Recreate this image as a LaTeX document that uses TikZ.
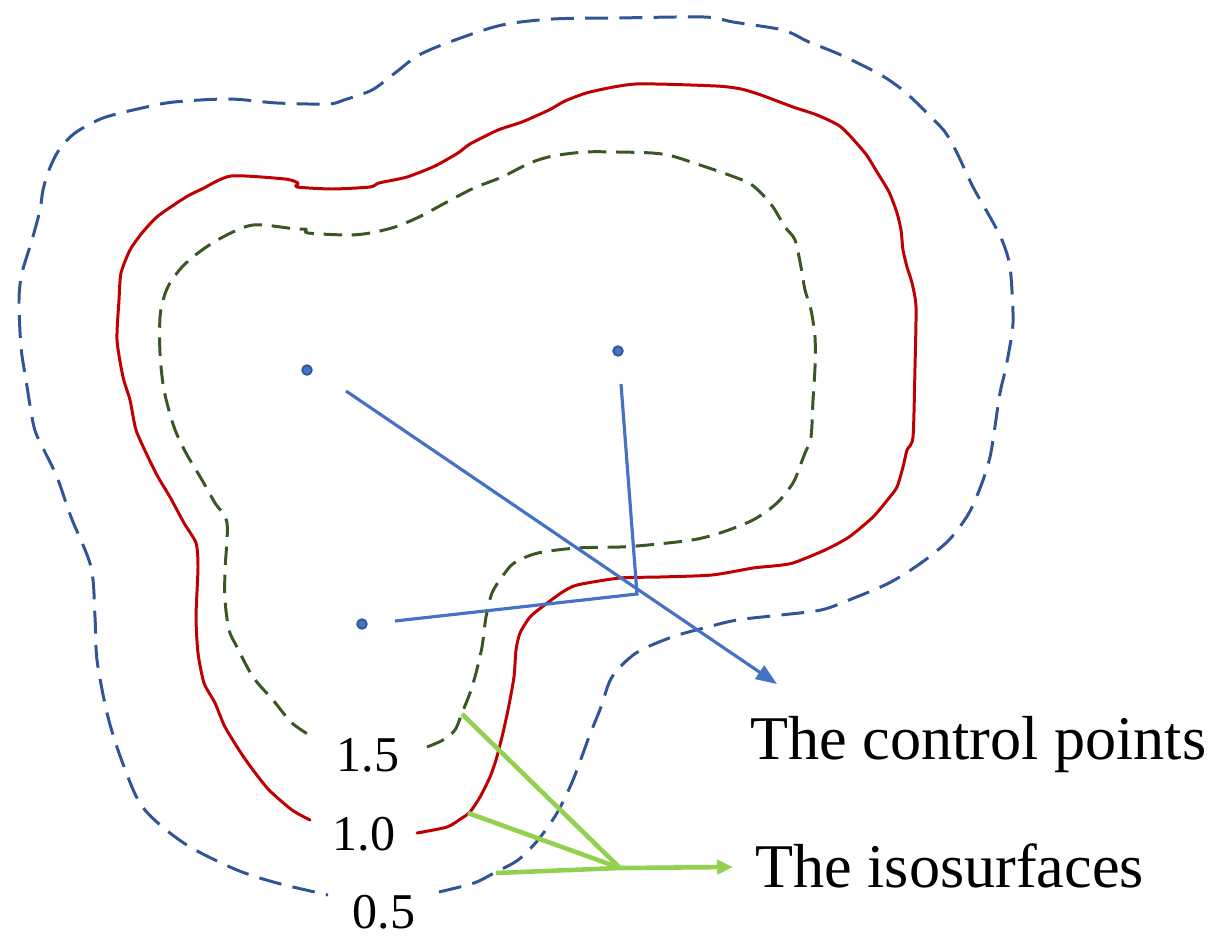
\documentclass[tikz,border=0pt]{standalone}
\usepackage{fontspec}
\setmainfont{Liberation Serif}
\usetikzlibrary{arrows.meta}
\definecolor{outerblue}{HTML}{2F5597}
\definecolor{isored}{HTML}{C00000}
\definecolor{isogreen}{HTML}{385723}
\definecolor{lineblue}{HTML}{4472C4}
\definecolor{arrowgreen}{HTML}{92D050}
\tikzset{
  iso05/.style={draw=outerblue, line width=1.7pt, dash pattern=on 13pt off 6.5pt, line join=round},
  iso10/.style={draw=isored, line width=1.7pt, line join=round, line cap=round},
  iso15/.style={draw=isogreen, line width=1.7pt, dash pattern=on 10.5pt off 5.5pt, line join=round},
  cpdot/.style={circle, fill=lineblue, draw=outerblue, line width=1pt, inner sep=0pt, minimum size=5.5pt},
  cpline/.style={draw=lineblue, line width=1.8pt, line join=miter},
  isoline/.style={draw=arrowgreen, line width=2.6pt, line join=round},
  bigtext/.style={inner sep=0pt, anchor=base west, font=\fontsize{35.4}{40}\selectfont},
  lvl/.style={inner sep=0pt, anchor=base, font=\fontsize{28.5}{32}\selectfont},
}
\begin{document}
\begin{tikzpicture}[x=0.02cm, y=-0.02cm]
\useasboundingbox (0,0) rectangle (1230,943);

% isosurface 0.5 (outer, blue dashed)
\draw[iso05] plot[smooth, tension=0.5] coordinates {
(439,892) (474,883) (494,873) (518,860) (538,840) (557,813) (573,780) (589,737) (601,707) (612,677) (636,653) (672,637) (704,628) (737,620) (781,615) (821,610) (849,600) (889,583) (921,563) (949,540) (969,513) (982,483) (990,457) (994,433) (1000,393) (1006,367) (1012,333) (1013,313) (1010,267) (1002,240) (990,217) (973,187) (957,153) (945,132) (929,115) (905,92) (881,75) (841,55) (809,42) (789,32) (773,28) (733,22) (704,17) (617,18) (553,19) (502,25) (455,40) (419,55) (395,73) (372,90) (344,100) (328,104) (277,103) (229,99) (174,102) (142,108) (103,118) (75,133) (59,150) (49,170) (43,190) (40,210) (32,240) (22,273) (19,300) (21,347) (26,380) (34,427) (43,448) (57,477) (71,517) (91,567) (95,617) (97,660) (107,713) (119,753) (138,800) (158,823) (190,847) (237,870) (277,883) (328,895)};

% isosurface 1.0 (red solid)
\draw[iso10] plot[smooth, tension=0.4] coordinates {
(417,833) (447,827) (462,818) (470,812) (480,797) (490,777) (496,760) (502,737) (508,710) (514,677) (516,650) (520,633) (530,617) (542,607) (561,593) (577,585) (620,578) (660,577) (712,575) (753,568) (773,566) (793,563) (825,550) (849,537) (873,517) (889,498) (897,487) (903,467) (907,450) (913,437) (915,367) (916,307) (912,283) (907,267) (903,250) (901,230) (897,213) (889,192) (877,172) (865,153) (841,127) (817,115) (793,107) (761,95) (741,89) (716,86) (636,84) (590,92) (565,101) (549,110) (522,122) (498,130) (470,144) (458,153) (435,166) (407,177) (379,183) (370,187) (332,189) (297,187) (298,183) (285,179) (231,176) (202,189) (186,197) (158,216) (142,233) (130,250) (121,273) (119,300) (117,340) (123,377) (130,400) (136,430) (148,457) (158,477) (170,497) (184,523) (196,543) (198,567) (196,617) (198,653) (204,683) (215,703) (225,727) (241,753) (253,770) (269,790) (292,810) (310,820)};

% isosurface 1.5 (green dashed)
\draw[iso15] plot[smooth, tension=0.5] coordinates {
(427,747) (443,740) (455,730) (462,713) (470,693) (476,673) (482,647) (486,617) (492,593) (502,577) (514,563) (538,553) (577,548) (620,547) (648,545) (692,540) (720,533) (753,520) (777,503) (793,483) (800,466) (805,453) (811,437) (813,400) (815,367) (815,337) (811,310) (805,290) (801,267) (795,240) (785,227) (773,207) (761,193) (749,183) (729,175) (700,165) (672,156) (652,153) (617,152) (585,152) (553,156) (530,163) (502,177) (474,188) (447,202) (419,217) (395,227) (370,233) (348,235) (308,233) (306,229) (296,229) (253,225) (221,238) (198,253) (182,267) (170,283) (164,297) (160,317) (160,353) (164,390) (174,427) (186,453) (202,480) (215,503) (227,523) (225,570) (225,600) (229,630) (237,647) (253,677) (273,700) (292,723) (314,738)};

% control points
\node[cpdot] (cp1) at (307,370) {};
\node[cpdot] (cp2) at (618,351) {};
\node[cpdot] (cp3) at (362,624) {};

% labels
\node[lvl] (l15) at (368,771) {1.5};
\node[lvl] (l10) at (364,850) {1.0};
\node[lvl] (l05) at (384,928) {0.5};
\node[bigtext] (tcp) at (750,759) {The control points};
\node[bigtext] (tiso) at (755,887) {The isosurfaces};

% connectors for control points
\coordinate (a1) at (346,391);
\coordinate (a2) at (621,384);
\coordinate (a3) at (395,621);
\coordinate (jb) at (637,594);
\coordinate (tipb) at (777,684);
\draw[cpline, -{Triangle[length=12pt,width=9pt]}] (a1) -- (tipb);
\draw[cpline] (a2) -- (jb) -- (a3);

% connectors for isosurfaces
\coordinate (g1) at (462,714);
\coordinate (g2) at (468,813);
\coordinate (g3) at (496,873);
\coordinate (jg) at (620,868);
\coordinate (tipg) at (733,867);
\draw[isoline] (g1) -- (jg);
\draw[isoline] (g2) -- (jg);
\draw[isoline] (g3) -- (jg);
\draw[isoline, -{Triangle[length=9pt,width=8pt]}] (jg) -- (tipg);
\end{tikzpicture}
\end{document}
